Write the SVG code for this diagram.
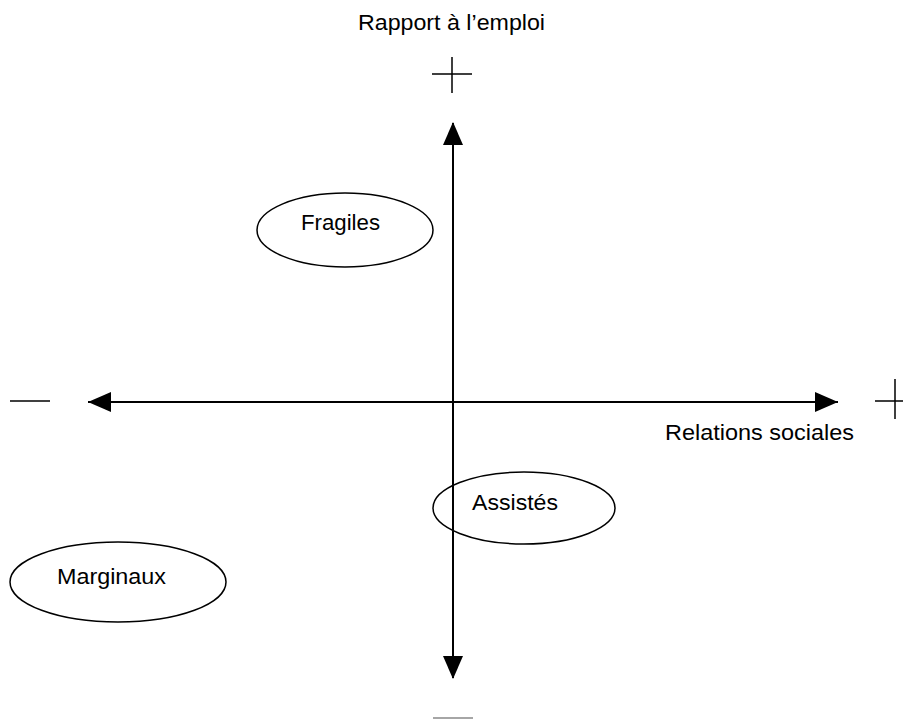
<svg xmlns="http://www.w3.org/2000/svg" width="903" height="719" viewBox="0 0 903 719">
<defs>
<style>
.t{font-family:"Liberation Sans",Arial,sans-serif;font-size:22px;fill:#000}
.s{stroke:#000;stroke-width:1.5;fill:none}
</style>
</defs>
<text class="t" x="358" y="30" textLength="187" lengthAdjust="spacingAndGlyphs">Rapport à l’emploi</text>
<text class="t" x="665" y="440" textLength="189" lengthAdjust="spacingAndGlyphs">Relations sociales</text>
<g id="signs">
<path class="s" d="M432,74 H472 M452,57 V93"/>
<path class="s" d="M10,401 H50"/>
<path class="s" d="M875,401 H903 M895,379 V419"/>
<path d="M433,718 H473" stroke="#888" stroke-width="1.5"/>
</g>
<g id="connectors">
<line x1="453" y1="123" x2="453" y2="678" stroke="#000" stroke-width="2"/>
<path d="M453,122 L443,145 L463,145 Z" fill="#000"/>
<path d="M453,679 L443,656 L463,656 Z" fill="#000"/>
<line x1="88" y1="402" x2="838" y2="402" stroke="#000" stroke-width="2"/>
<path d="M88,402 L111,392 L111,412 Z" fill="#000"/>
<path d="M838,402 L815,392 L815,412 Z" fill="#000"/>
</g>
<g id="fragiles">
<ellipse class="s" cx="345" cy="230" rx="88" ry="37"/>
<text class="t" x="301" y="230" textLength="79" lengthAdjust="spacingAndGlyphs">Fragiles</text>
</g>
<g id="assistes">
<ellipse class="s" cx="524" cy="508" rx="91" ry="36"/>
<text class="t" x="472" y="510" textLength="86" lengthAdjust="spacingAndGlyphs">Assistés</text>
</g>
<g id="marginaux">
<ellipse class="s" cx="118" cy="582" rx="108" ry="40"/>
<text class="t" x="57" y="584" textLength="109" lengthAdjust="spacingAndGlyphs">Marginaux</text>
</g>
</svg>
